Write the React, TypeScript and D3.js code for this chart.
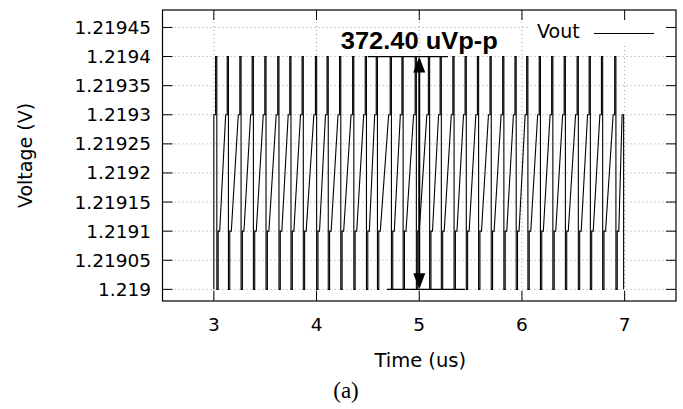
import React from 'react';
import * as d3 from 'd3';

const W = 683;
const H = 409;

// axis ticks
const xTicks = [3, 4, 5, 6, 7];
const yTicks = [1.219, 1.21905, 1.2191, 1.21915, 1.2192, 1.21925, 1.2193, 1.21935, 1.2194, 1.21945];
const yTickLabels = ['1.219', '1.21905', '1.2191', '1.21915', '1.2192', '1.21925', '1.2193', '1.21935', '1.2194', '1.21945'];

// quantized output levels (V)
const levelTop = 1.2194;
const levelHigh = 1.2193;
const levelLow = 1.2191;
const levelBottom = 1.219;

// times (us) of each upper pulse
const pulseTimes = [
  3.017, 3.13, 3.253, 3.373, 3.496, 3.622, 3.739, 3.859, 3.989, 4.102, 4.224,
  4.351, 4.474, 4.581, 4.717, 4.831, 4.96, 5.089, 5.203, 5.327, 5.446, 5.566,
  5.689, 5.812, 5.932, 6.046, 6.168, 6.289, 6.411, 6.537, 6.654, 6.774, 6.903,
];

// shape of one cycle around each pulse: [time offset (us), level]
const cycleOffsets = [-0.015, 0, 0, 0.012, 0.012, 0.025, 0.025, 0.04];
const cycleLevels = [levelHigh, levelHigh, levelTop, levelTop, levelBottom, levelBottom, levelLow, levelLow];

// trace start / end
const startTimes = [3.0, 3.0];
const startLevels = [levelBottom, levelHigh];
const endTimes = [6.975, 6.99, 6.99];
const endLevels = [levelHigh, levelHigh, levelBottom];

// annotation
const annotLabel = '372.40 uVp-p';
const annotX = 5;
const annotTopBar = [4.5, 5.28];
const annotBottomBar = [4.685, 5.445];

const legendLabel = 'Vout';

export default function App() {
  const left = 162.5, right = 676, top = 10, bottom = 301;
  const x = d3.scaleLinear().domain([2.5, 7.5]).range([left, right]);
  const y = d3.scaleLinear().domain([1.21898, 1.21948]).range([bottom, top]);

  const pts: [number, number][] = [];
  startTimes.forEach((t, i) => pts.push([t, startLevels[i]]));
  pulseTimes.forEach((tp) => {
    cycleOffsets.forEach((o, i) => pts.push([tp + o, cycleLevels[i]]));
  });
  endTimes.forEach((t, i) => pts.push([t, endLevels[i]]));

  const line = d3.line<[number, number]>().x((d) => x(d[0])).y((d) => y(d[1]));

  const ax = x(annotX);
  const yT = y(levelTop);
  const yB = y(levelBottom);
  const tick = 10;
  const font = "'DejaVu Sans', Verdana, sans-serif";

  return (
    <div style={{ position: 'absolute', left: 0, top: 0 }}>
      <svg width={W} height={H} style={{ display: 'block', background: '#fff' }}>
        {/* grid */}
        {yTicks.map((v) => (
          <line key={'gy' + v} x1={left} x2={right} y1={y(v)} y2={y(v)} stroke="#a0a0a0" strokeWidth={1} strokeDasharray="1,3" />
        ))}
        {xTicks.map((v) => (
          <line key={'gx' + v} x1={x(v)} x2={x(v)} y1={top} y2={bottom} stroke="#a0a0a0" strokeWidth={1} strokeDasharray="1,3" />
        ))}

        {/* trace */}
        <path d={line(pts) || ''} fill="none" stroke="#000" strokeWidth={1.1} />

        {/* annotation */}
        <line x1={x(annotTopBar[0])} x2={x(annotTopBar[1])} y1={yT} y2={yT} stroke="#000" strokeWidth={1.2} />
        <line x1={x(annotBottomBar[0])} x2={x(annotBottomBar[1])} y1={yB} y2={yB} stroke="#000" strokeWidth={1.2} />
        <line x1={ax} x2={ax} y1={yT + 4} y2={yB - 4} stroke="#000" strokeWidth={2} />
        <polygon points={`${ax},${yT} ${ax - 6},${yT + 16} ${ax + 6},${yT + 16}`} fill="#000" />
        <polygon points={`${ax},${yB} ${ax - 6},${yB - 16} ${ax + 6},${yB - 16}`} fill="#000" />
        <text x={ax} y={48.5} textAnchor="middle" fontFamily="'Liberation Sans', Arial, sans-serif" fontWeight="bold" fontSize={24} textLength={157} lengthAdjust="spacingAndGlyphs" fill="#000">
          {annotLabel}
        </text>

        {/* legend */}
        <rect x={530} y={11} width={138} height={35} fill="#fff" />
        <text x={537} y={38.3} fontFamily={font} fontSize={19} fill="#000">{legendLabel}</text>
        <line x1={594} x2={654} y1={33.5} y2={33.5} stroke="#000" strokeWidth={1} />

        {/* ticks */}
        {yTicks.map((v) => (
          <g key={'ty' + v}>
            <line x1={left} x2={left + tick} y1={y(v)} y2={y(v)} stroke="#000" strokeWidth={1} />
            <line x1={right - tick} x2={right} y1={y(v)} y2={y(v)} stroke="#000" strokeWidth={1} />
          </g>
        ))}
        {xTicks.map((v) => (
          <g key={'tx' + v}>
            <line x1={x(v)} x2={x(v)} y1={bottom} y2={bottom - tick} stroke="#000" strokeWidth={1} />
            <line x1={x(v)} x2={x(v)} y1={top} y2={top + tick} stroke="#000" strokeWidth={1} />
          </g>
        ))}

        {/* frame */}
        <rect x={left} y={top} width={right - left} height={bottom - top} fill="none" stroke="#000" strokeWidth={1.2} />

        {/* tick labels */}
        {yTicks.map((v, i) => (
          <text key={'ly' + v} x={151} y={y(v) + 6.5} textAnchor="end" fontFamily={font} fontSize={18.5} fill="#000">
            {yTickLabels[i]}
          </text>
        ))}
        {xTicks.map((v) => (
          <text key={'lx' + v} x={x(v)} y={331} textAnchor="middle" fontFamily={font} fontSize={18.5} fill="#000">
            {v}
          </text>
        ))}

        {/* axis titles */}
        <text x={(left + right) / 2 + 1} y={366.5} textAnchor="middle" fontFamily={font} fontSize={19.5} fill="#000">Time (us)</text>
        <text transform={`translate(32,155.5) rotate(-90)`} textAnchor="middle" fontFamily={font} fontSize={19} fill="#000">Voltage (V)</text>
        <text x={346} y={398} textAnchor="middle" fontFamily="'Liberation Serif', 'Times New Roman', serif" fontSize={23} fill="#000">(a)</text>
      </svg>
    </div>
  );
}
